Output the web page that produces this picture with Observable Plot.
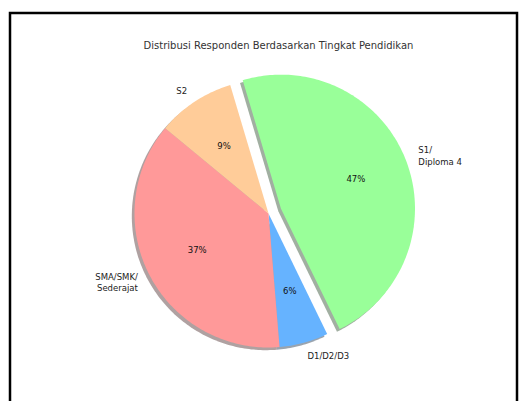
<!DOCTYPE html>
<html>
<head>
<meta charset="utf-8">
<script src="https://cdn.jsdelivr.net/npm/d3@7"></script>
<script src="https://cdn.jsdelivr.net/npm/@observablehq/plot@0.6"></script>
<style>
  html, body { margin: 0; padding: 0; background: #fff; }
  #chart svg { display: block; }
</style>
</head>
<body>
<div id="chart"></div>
<script>
// ---- Data ----
const title = "Distribusi Responden Berdasarkan Tingkat Pendidikan";
const labels = ["S1/\nDiploma 4", "D1/D2/D3", "SMA/SMK/\nSederajat", "S2"];
const values = [47.4, 5.9, 37.3, 9.4];
const colors = ["#99ff99", "#66b3ff", "#ff9999", "#ffcc99"];
const shadowColors = ["#2e4d2e", "#1f364d", "#4d2e2e", "#4d3d2e"];
const explode = [0.1, 0, 0, 0];
const startDeg = -16.6; // clockwise from 12 o'clock

// ---- Geometry (unit-radius pie) ----
const total = d3.sum(values);
const rad = d => d * Math.PI / 180;
let acc = startDeg;
const slices = values.map((v, i) => {
  const a0 = acc, a1 = acc + v / total * 360;
  acc = a1;
  const mid = rad((a0 + a1) / 2);
  const ox = explode[i] * Math.sin(mid), oy = explode[i] * Math.cos(mid);
  return {i, label: labels[i], value: v, a0, a1, mid, ox, oy};
});

function wedgePoints(s, dx, dy, key) {
  const pts = [{x: s.ox + dx, y: s.oy + dy, key}];
  const n = Math.max(2, Math.ceil(s.a1 - s.a0));
  for (let k = 0; k <= n; k++) {
    const a = rad(s.a0 + (s.a1 - s.a0) * k / n);
    pts.push({x: s.ox + dx + Math.sin(a), y: s.oy + dy + Math.cos(a), key});
  }
  return pts;
}

const wedges = slices.flatMap(s => wedgePoints(s, 0, 0, s.i).map(p => ({...p, color: colors[s.i]})));
const shadows = slices.flatMap(s => wedgePoints(s, -0.02, -0.02, s.i).map(p => ({...p, color: shadowColors[s.i]})));

const outerLabels = slices.map(s => ({
  text: s.label,
  x: s.ox + 1.1 * Math.sin(s.mid),
  y: s.oy + 1.1 * Math.cos(s.mid),
  right: Math.sin(s.mid) > 0
}));
const pctLabels = slices.map(s => ({
  text: Math.round(s.value / total * 100) + "%",
  x: s.ox + 0.6 * Math.sin(s.mid),
  y: s.oy + 0.6 * Math.cos(s.mid)
}));

// ---- Layout ----
const W = 524, H = 401, R = 134, CX = 268, CY = 213;
const labelStyle = {x: "x", y: "y", text: "text", lineAnchor: "middle", lineHeight: 1.35, fontSize: 8.5, fill: "#222"};

const chart = Plot.plot({
  width: W,
  height: H,
  margin: 0,
  style: {fontFamily: "DejaVu Sans, sans-serif", background: "#fff", overflow: "visible"},
  x: {domain: [-CX / R, (W - CX) / R], axis: null},
  y: {domain: [-(H - CY) / R, CY / R], axis: null},
  marks: [
    Plot.frame({stroke: "#000", strokeWidth: 2.5, insetLeft: 9.5, insetTop: 12.5, insetRight: 7.5, insetBottom: -10}),
    Plot.line(shadows, {x: "x", y: "y", z: "key", fill: "color", stroke: "none", fillOpacity: 0.45, curve: "linear-closed"}),
    Plot.line(wedges, {x: "x", y: "y", z: "key", fill: "color", stroke: "none", curve: "linear-closed"}),
    Plot.text(outerLabels.filter(d => d.right), {...labelStyle, textAnchor: "start"}),
    Plot.text(outerLabels.filter(d => !d.right), {...labelStyle, textAnchor: "end"}),
    Plot.text(pctLabels, {x: "x", y: "y", text: "text", fontSize: 8.5, fill: "#111"}),
    Plot.text([title], {frameAnchor: "top", dx: 16, dy: 45, lineAnchor: "middle", fontSize: 10, fill: "#333"})
  ]
});
document.getElementById("chart").appendChild(chart);
</script>
</body>
</html>
